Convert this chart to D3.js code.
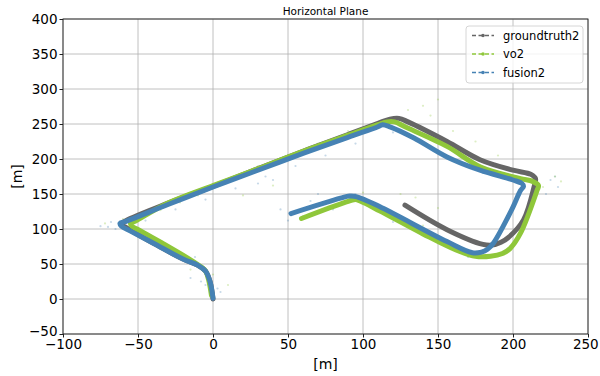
<!DOCTYPE html>
<html>
<head>
<meta charset="utf-8">
<script src="https://cdn.jsdelivr.net/npm/d3@7"></script>
<style>
  body { margin: 0; background: #fff; }
  text { font-family: "DejaVu Sans", sans-serif; }
</style>
</head>
<body>
<script>
// trajectory points (metres)
const gtX = [0, -2, -5, -10, -20, -40, -57, -61, -58, -30, 0, 25, 60, 90, 110, 118, 124, 130, 156, 178, 200, 212, 215, 214, 207, 197, 192, 186, 180, 156, 128];
const gtY = [0, 25, 40, 48, 57, 80, 101, 107, 112, 137, 161, 182, 211, 235, 251, 257, 258, 253, 225, 199, 184, 178, 172, 160, 113, 88, 81, 77, 78, 99, 134];

const voX = [-1, -3, -5, -8, -15, -34, -48, -54, -55, -52, -30, 0, 25, 60, 90, 110, 116, 121, 128, 156, 178, 205, 213, 217, 216, 205, 198, 193, 185, 175, 162, 140, 111, 98, 95, 88, 59];
const voY = [5, 28, 40, 46, 56, 80, 97, 104, 108, 111, 137, 162, 182, 211, 234, 249, 253, 253, 246, 218, 189, 172, 168, 162, 155, 94, 72, 65, 61, 61, 70, 93, 126, 140, 142, 138, 115];

const fusionX = [0, -2, -5, -10, -20, -40, -55, -61, -62, -58, -30, 0, 25, 60, 90, 110, 113, 118, 134, 156, 178, 200, 206, 207, 205, 199, 187, 183, 179, 173, 156, 111, 96, 91, 85, 52];
const fusionY = [1, 25, 40, 48, 57, 80, 97, 104, 108, 111, 135, 160, 180, 208, 231, 246, 249, 246, 230, 203, 184, 170, 165, 161, 155, 127, 80, 71, 67, 66, 82, 132, 146, 147, 144, 122];

// faint raw measurement clouds (hand placed)
const blueCloudX = [-75, -70, -68, -65, -50, -40, -30, -20, -12, -15, -8, -5, 3, 5, -45, -25, -5, 15, 35, 55, 75, 95, 30, 40, 70, 120, 135, 150, 165, 180, 225, 230, 222, 228, 50, 60, 80, 120, 140, 160, 170, 45, 65, 95];
const blueCloudY = [104, 103, 110, 100, 90, 82, 72, 62, 60, 30, 25, 20, 15, 10, 112, 128, 142, 158, 175, 190, 205, 222, 165, 170, 150, 238, 228, 212, 196, 180, 170, 160, 150, 175, 112, 118, 128, 110, 95, 75, 60, 128, 140, 150];
const greenCloudX = [-72, -60, -48, -35, -22, -10, -15, 0, 10, 30, 50, 70, 90, 130, 140, 150, 145, 160, 175, 190, 228, 232, 220, 60, 80, 100, 115, 140, 160, 125, 135, 150, 20, 40];
const greenCloudY = [108, 114, 118, 127, 138, 148, 42, 35, 20, 190, 205, 222, 240, 270, 276, 285, 262, 240, 225, 205, 175, 168, 160, 128, 140, 152, 125, 105, 80, 150, 145, 130, 148, 162];

const xTicks = [-100, -50, 0, 50, 100, 150, 200, 250];
const yTicks = [-50, 0, 50, 100, 150, 200, 250, 300, 350, 400];
const seriesNames = ['groundtruth2', 'vo2', 'fusion2'];
const seriesColors = ['#666666', '#8fc73a', '#4682b4'];

const W = 600, H = 376;
const plotLeft = 63, plotRight = 588, plotTop = 19, plotBottom = 334;

const svg = d3.select('body').append('svg')
  .attr('width', W)
  .attr('height', H);

const x = d3.scaleLinear().domain([-100, 250]).range([plotLeft, plotRight]);
const y = d3.scaleLinear().domain([-50, 400]).range([plotBottom, plotTop]);

// grid
svg.append('g').selectAll('line')
  .data(xTicks)
  .enter().append('line')
    .attr('x1', d => x(d)).attr('x2', d => x(d))
    .attr('y1', plotTop).attr('y2', plotBottom)
    .attr('stroke', '#b0b0b0').attr('stroke-width', 0.8);
svg.append('g').selectAll('line')
  .data(yTicks)
  .enter().append('line')
    .attr('x1', plotLeft).attr('x2', plotRight)
    .attr('y1', d => y(d)).attr('y2', d => y(d))
    .attr('stroke', '#b0b0b0').attr('stroke-width', 0.8);

const plot = svg.append('g');

// faint clouds
function cloud(xs, ys, color) {
  plot.append('g').selectAll('circle')
    .data(xs.map((v, i) => [v, ys[i]]))
    .enter().append('circle')
      .attr('cx', d => x(d[0]))
      .attr('cy', d => y(d[1]))
      .attr('r', 1.1)
      .attr('fill', color)
      .attr('opacity', 0.3);
}
cloud(blueCloudX, blueCloudY, seriesColors[2]);
cloud(greenCloudX, greenCloudY, seriesColors[1]);

// trajectories
const line = d3.line()
  .x(d => x(d[0]))
  .y(d => y(d[1]))
  .curve(d3.curveCatmullRom.alpha(0.5));

[[gtX, gtY], [voX, voY], [fusionX, fusionY]].forEach((s, i) => {
  plot.append('path')
    .datum(s[0].map((v, j) => [v, s[1][j]]))
    .attr('d', line)
    .attr('fill', 'none')
    .attr('stroke', seriesColors[i])
    .attr('stroke-width', 5)
    .attr('stroke-linejoin', 'round')
    .attr('stroke-linecap', 'round');
});

// axes
const fmt = d => d < 0 ? '\u2212' + Math.abs(d) : d;
const xAxis = d3.axisBottom(x).tickValues(xTicks).tickSize(3.5).tickPadding(2).tickFormat(fmt);
const yAxis = d3.axisLeft(y).tickValues(yTicks).tickSize(3.5).tickPadding(2).tickFormat(fmt);

const gx = svg.append('g')
  .attr('transform', 'translate(0,' + plotBottom + ')')
  .call(xAxis);
const gy = svg.append('g')
  .attr('transform', 'translate(' + plotLeft + ',0)')
  .call(yAxis);
[gx, gy].forEach(g => {
  g.select('.domain').remove();
  g.selectAll('text').style('font-size', '13.5px').attr('fill', '#000');
  g.selectAll('line').attr('stroke', '#222');
});
// keep the last x label inside the page
gx.selectAll('.tick').filter(d => d === 250).select('text').attr('dx', '-0.2em');
gy.selectAll('.tick').filter(d => d === -50).select('text').attr('dy', '0.1em');

// frame
svg.append('rect')
  .attr('x', plotLeft).attr('y', plotTop)
  .attr('width', plotRight - plotLeft).attr('height', plotBottom - plotTop)
  .attr('fill', 'none')
  .attr('stroke', '#222')
  .attr('stroke-width', 0.9);

// labels
svg.append('text')
  .attr('x', (plotLeft + plotRight) / 2).attr('y', 15)
  .attr('text-anchor', 'middle')
  .style('font-size', '10.5px')
  .text('Horizontal Plane');

svg.append('text')
  .attr('x', (plotLeft + plotRight) / 2).attr('y', 369)
  .attr('text-anchor', 'middle')
  .style('font-size', '14px')
  .text('[m]');

svg.append('text')
  .attr('transform', 'translate(22,' + ((plotTop + plotBottom) / 2) + ')rotate(-90)')
  .attr('text-anchor', 'middle')
  .style('font-size', '14px')
  .text('[m]');

// legend
const lg = svg.append('g');
lg.append('rect')
  .attr('x', 466).attr('y', 26)
  .attr('width', 117).attr('height', 57)
  .attr('rx', 3)
  .attr('fill', '#fff').attr('fill-opacity', 0.8)
  .attr('stroke', '#cccccc').attr('stroke-width', 0.8);

seriesNames.forEach((name, i) => {
  const ly = 35.5 + i * 18.5;
  lg.append('line')
    .attr('x1', 472).attr('x2', 494)
    .attr('y1', ly).attr('y2', ly)
    .attr('stroke', seriesColors[i])
    .attr('stroke-width', 1.5)
    .attr('stroke-dasharray', '4,2.5');
  lg.append('circle')
    .attr('cx', 483).attr('cy', ly)
    .attr('r', 1.8)
    .attr('fill', seriesColors[i]);
  lg.append('text')
    .attr('x', 503).attr('y', ly + 4.3)
    .style('font-size', '11.5px')
    .text(name);
});
</script>
</body>
</html>
